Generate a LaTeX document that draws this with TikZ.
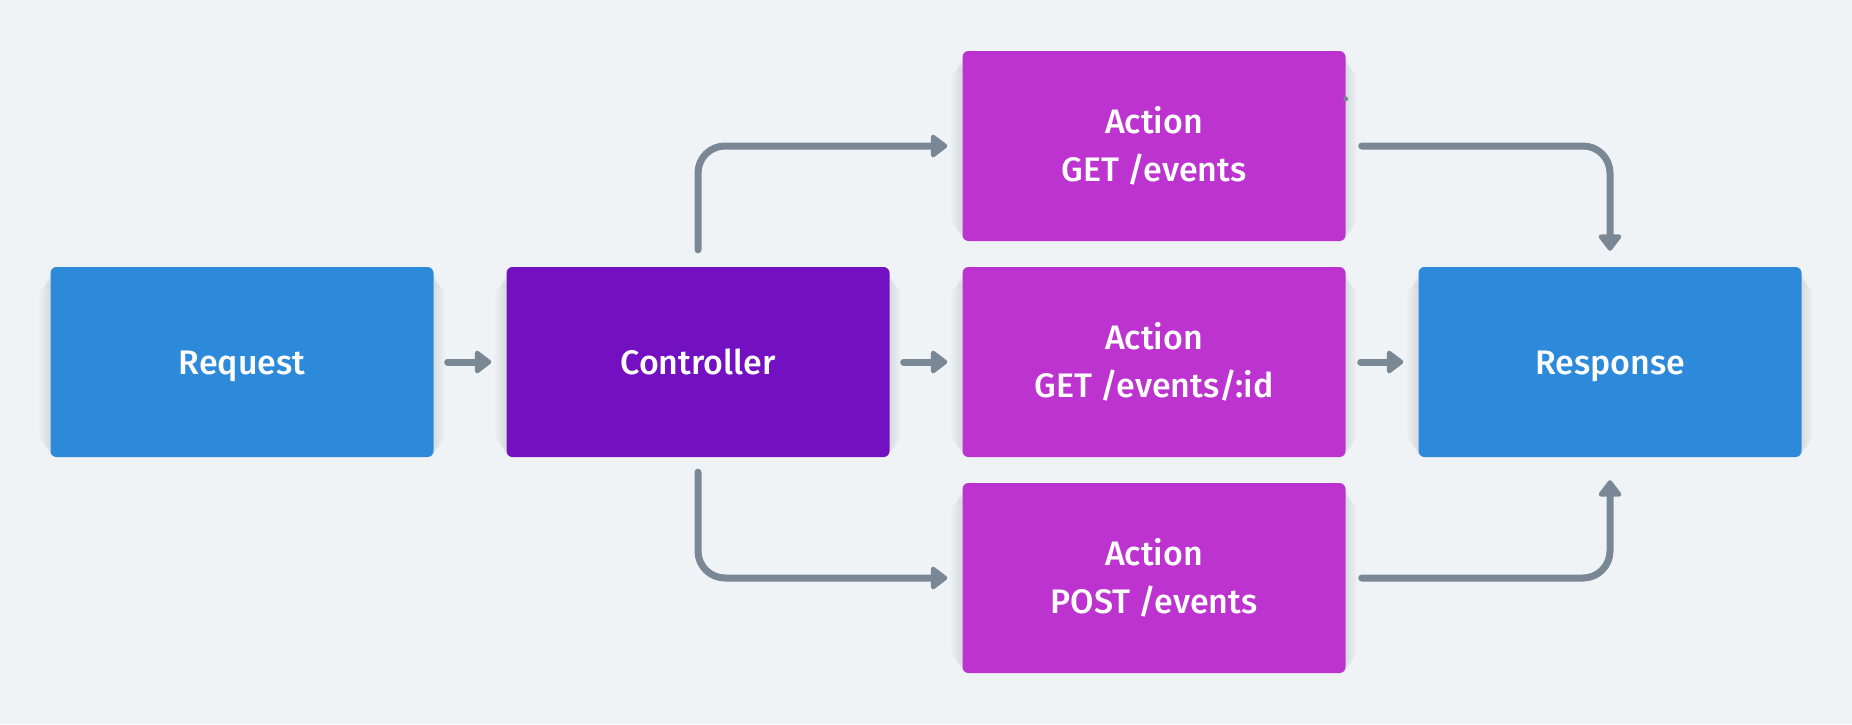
\documentclass[tikz,border=0pt]{standalone}
\usepackage{fontspec}
\setmainfont{Fira Sans}[UprightFont=* Medium]
\usetikzlibrary{arrows.meta}

\definecolor{bgcol}{HTML}{EFF3F6}
\definecolor{reqblue}{HTML}{2D89D9}
\definecolor{ctrlpurple}{HTML}{7210C2}
\definecolor{actmagenta}{HTML}{BD33D0}
\definecolor{linkgray}{HTML}{7A8896}

\tikzset{
  card/.style={rounded corners=6pt, minimum width=383pt, minimum height=190pt,
    inner sep=0pt, text=white, align=center,
    font=\fontsize{34}{48}\selectfont},
  oneline/.style={text height=24pt, text depth=0pt},
  flow/.style={draw=linkgray, line width=7pt, line cap=round, rounded corners=27pt,
    -{Triangle[length=18pt, width=26pt, round]}},
}

% soft shadow under a card
\newcommand{\cardshadow}[1]{%
  \foreach \g in {2,...,12}{%
    \fill[black, opacity=0.009, rounded corners=6pt+\g pt]
      ([shift={(-\g pt,-3pt+\g pt)}]#1.south west) rectangle ([shift={(\g pt,-3pt-\g pt)}]#1.north east);
  }%
}

\begin{document}
\begin{tikzpicture}[x=1pt, y=-1pt]
  \fill[bgcol] (0,0) rectangle (1852,724);
  \useasboundingbox (0,0) rectangle (1852,724);

  \path
    coordinate (pReq)  at (242,362)
    coordinate (pCtrl) at (698,362)
    coordinate (pTop)  at (1154,146)
    coordinate (pMid)  at (1154,362)
    coordinate (pBot)  at (1154,578)
    coordinate (pResp) at (1610,362);

  % shadows first
  \foreach \p in {pReq,pCtrl,pTop,pMid,pBot,pResp}{
    \node[minimum width=383pt, minimum height=190pt, inner sep=0pt] (s\p) at (\p) {};
    \cardshadow{s\p}
  }

  \node[card, oneline, fill=reqblue]    (req)  at (pReq)  {Request};
  \node[card, oneline, fill=ctrlpurple] (ctrl) at (pCtrl) {Controller};
  \node[card, fill=actmagenta] (atop) at (pTop)  {Action\\GET /events};
  \node[card, fill=actmagenta] (amid) at (pMid)  {Action\\GET /events/:id};
  \node[card, fill=actmagenta] (abot) at (pBot)  {Action\\POST /events};
  \node[card, oneline, fill=reqblue]    (resp) at (pResp) {Response};

  % straight links
  \draw[flow] ([xshift=14pt]req.east)  -- ([xshift=-15pt]ctrl.west);
  \draw[flow] ([xshift=14pt]ctrl.east) -- ([xshift=-15pt]amid.west);
  \draw[flow] ([xshift=15pt]amid.east) -- ([xshift=-15pt]resp.west);

  % branching links
  \draw[flow] ([yshift=17pt]ctrl.north) |- ([xshift=-15pt]atop.west);
  \draw[flow] ([yshift=-15pt]ctrl.south) |- ([xshift=-15pt]abot.west);
  \draw[flow] ([xshift=16pt]atop.east) -| ([yshift=16pt]resp.north);
  \draw[flow] ([xshift=16pt]abot.east) -| ([yshift=-23pt]resp.south);

  % stray dot on the upper action card
  \fill[linkgray] ([yshift=-48pt]atop.north east) circle (2.5pt);
\end{tikzpicture}
\end{document}
